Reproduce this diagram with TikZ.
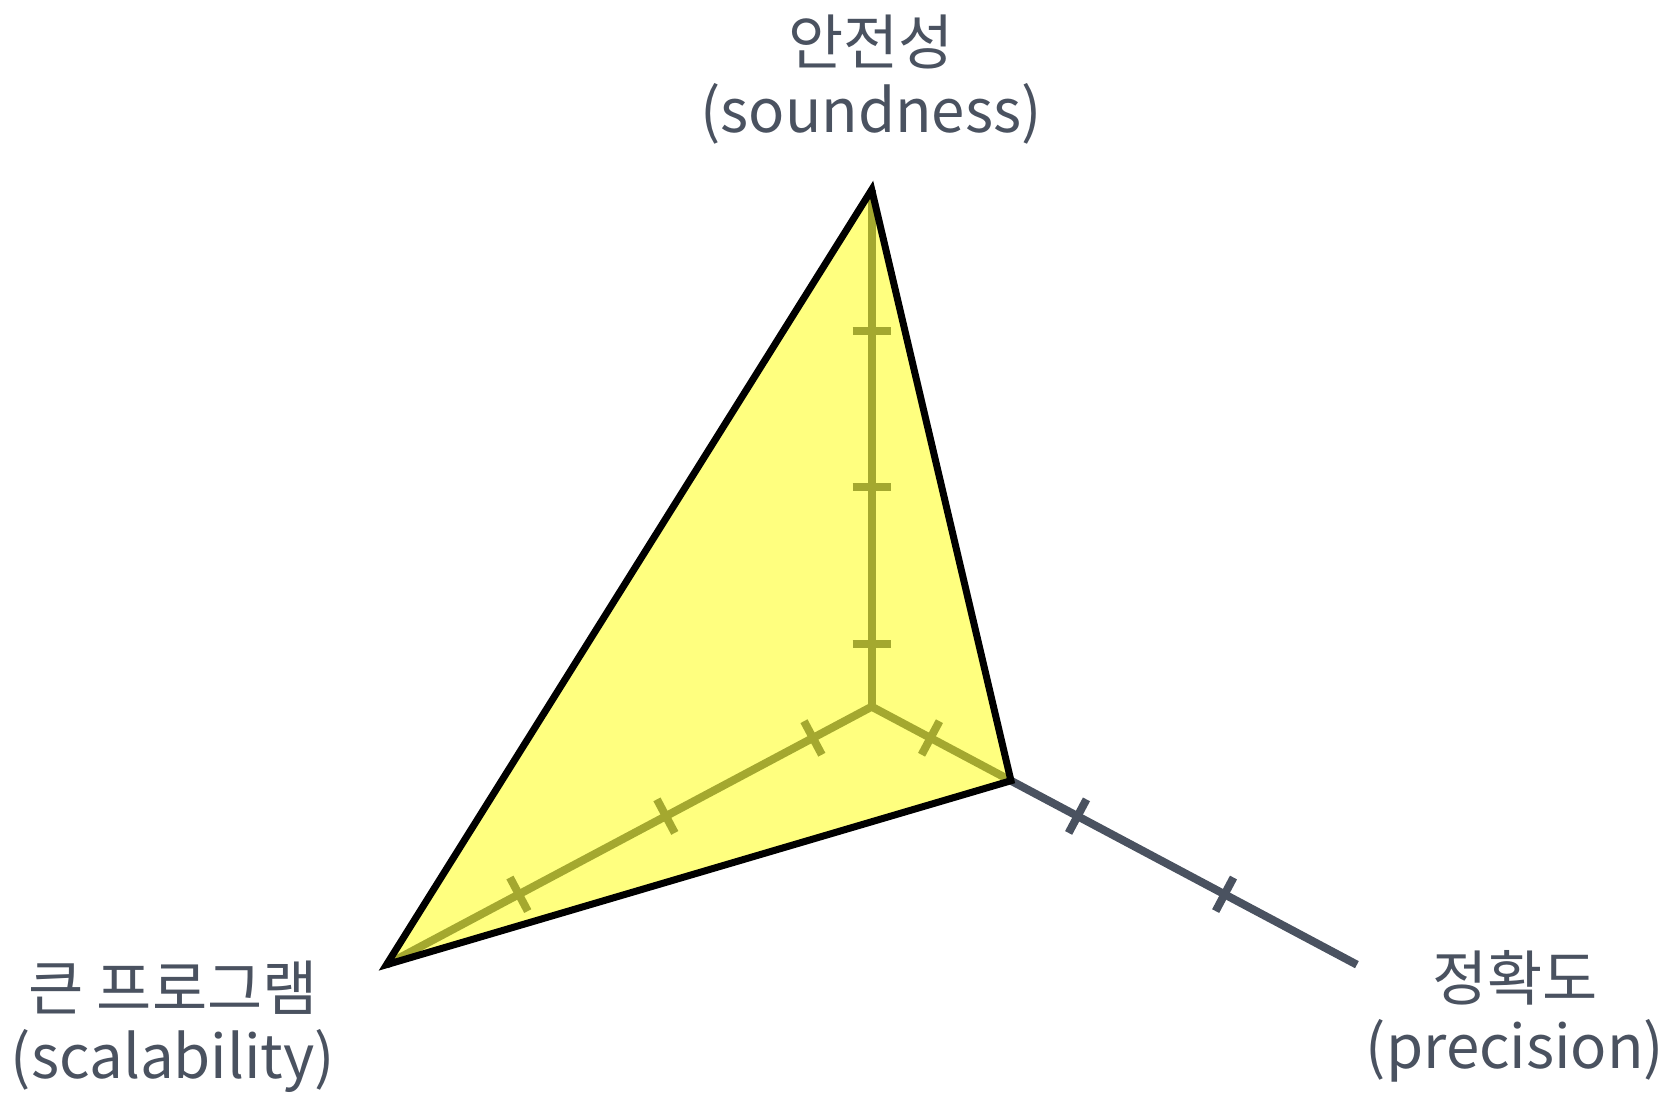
\documentclass[tikz,border=0pt]{standalone}
\usepackage{fontspec}
\usepackage{tikz}
\usetikzlibrary{calc}
\newfontfamily\korfont{Noto Sans CJK KR}
\definecolor{axisgray}{RGB}{74,82,96}
\definecolor{areayellow}{RGB}{255,255,0}

\begin{document}
\begin{tikzpicture}[x=.5pt,y=.5pt,axis/.style={draw=axisgray,line width=4pt},area/.style={fill=areayellow,fill opacity=.5,draw=black,line width=3.5pt,line join=miter},lbl/.style={text=axisgray,align=center,font=\korfont\fontsize{30}{34}\selectfont}]
\useasboundingbox(0,0)rectangle(1668,1093);

% Three axes of the trade-off, ticks at equal steps.
\coordinate(O)at(871.7,386.3);
\coordinate(S)at($(O)+(90:517)$);
\coordinate(P)at($(O)+(-28:549.5)$);
\coordinate(C)at($(O)+(208:549.5)$);
\foreach \e in {S,P,C}{
 \draw[axis](O)--(\e);
 \foreach \k in {.4,1.4,2.4}{
  \coordinate(T)at($(O)!{\k/3.3}!(\e)$);
  \draw[axis]($(T)!9.5pt!90:(\e)$)--($(T)!9.5pt!-90:(\e)$);
 }
}
% The area covered by one analysis.
\coordinate(Pv)at($(O)!.287!(P)$);
\draw[area](S)--(Pv)--(C)--cycle;

\node[lbl](ls)at(871,1013){안전성\\(soundness)};
\node[lbl](lc)at(173,66){큰 프로그램\\(scalability)};
\node[lbl](lp)at(1515,77){정확도\\(precision)};
\end{tikzpicture}
\end{document}
